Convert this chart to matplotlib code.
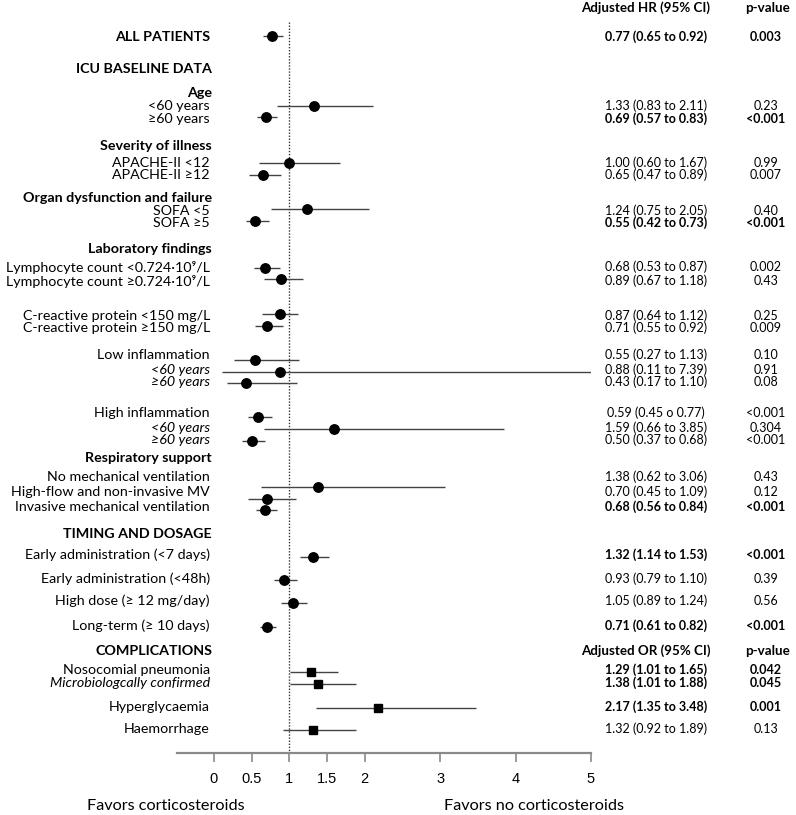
import matplotlib
matplotlib.use("Agg")
import matplotlib.pyplot as plt
from matplotlib.transforms import blended_transform_factory

# ---------------- data ----------------
labels = ["ALL PATIENTS", "<60 years", "≥60 years", "APACHE-II <12", "APACHE-II ≥12",
          "SOFA <5", "SOFA ≥5", "Lymphocyte count <0.724·10⁹/L", "Lymphocyte count ≥0.724·10⁹/L",
          "C-reactive protein <150 mg/L", "C-reactive protein ≥150 mg/L",
          "Low inflammation", "<60 years", "≥60 years",
          "High inflammation", "<60 years", "≥60 years",
          "No mechanical ventilation", "High-flow and non-invasive MV", "Invasive mechanical ventilation",
          "Early administration (<7 days)", "Early administration (<48h)",
          "High dose (≥ 12 mg/day)", "Long-term (≥ 10 days)",
          "Nosocomial pneumonia", "Microbiologcally confirmed", "Hyperglycaemia", "Haemorrhage"]
estimate = [0.77, 1.33, 0.69, 1.00, 0.65, 1.24, 0.55, 0.68, 0.89, 0.87, 0.71,
            0.55, 0.88, 0.43, 0.59, 1.59, 0.50, 1.38, 0.70, 0.68,
            1.32, 0.93, 1.05, 0.71, 1.29, 1.38, 2.17, 1.32]
ci_low = [0.65, 0.83, 0.57, 0.60, 0.47, 0.75, 0.42, 0.53, 0.67, 0.64, 0.55,
          0.27, 0.11, 0.17, 0.45, 0.66, 0.37, 0.62, 0.45, 0.56,
          1.14, 0.79, 0.89, 0.61, 1.01, 1.01, 1.35, 0.92]
ci_high = [0.92, 2.11, 0.83, 1.67, 0.89, 2.05, 0.73, 0.87, 1.18, 1.12, 0.92,
           1.13, 7.39, 1.10, 0.77, 3.85, 0.68, 3.06, 1.09, 0.84,
           1.53, 1.10, 1.24, 0.82, 1.65, 1.88, 3.48, 1.89]
ci_text = ["0.77 (0.65 to 0.92)", "1.33 (0.83 to 2.11)", "0.69 (0.57 to 0.83)",
           "1.00 (0.60 to 1.67)", "0.65 (0.47 to 0.89)", "1.24 (0.75 to 2.05)",
           "0.55 (0.42 to 0.73)", "0.68 (0.53 to 0.87)", "0.89 (0.67 to 1.18)",
           "0.87 (0.64 to 1.12)", "0.71 (0.55 to 0.92)", "0.55 (0.27 to 1.13)",
           "0.88 (0.11 to 7.39)", "0.43 (0.17 to 1.10)", "0.59 (0.45 o 0.77)",
           "1.59 (0.66 to 3.85)", "0.50 (0.37 to 0.68)", "1.38 (0.62 to 3.06)",
           "0.70 (0.45 to 1.09)", "0.68 (0.56 to 0.84)", "1.32 (1.14 to 1.53)",
           "0.93 (0.79 to 1.10)", "1.05 (0.89 to 1.24)", "0.71 (0.61 to 0.82)",
           "1.29 (1.01 to 1.65)", "1.38 (1.01 to 1.88)", "2.17 (1.35 to 3.48)",
           "1.32 (0.92 to 1.89)"]
p_text = ["0.003", "0.23", "<0.001", "0.99", "0.007", "0.40", "<0.001", "0.002", "0.43",
          "0.25", "0.009", "0.10", "0.91", "0.08", "<0.001", "0.304", "<0.001",
          "0.43", "0.12", "<0.001", "<0.001", "0.39", "0.56", "<0.001",
          "0.042", "0.045", "0.001", "0.13"]
bold_values = [True, False, True, False, False, False, True, False, False, False, False,
               False, False, False, False, False, False, False, False, True,
               True, False, False, True, True, True, True, False]
italic_labels = [False] * 12 + [True, True, False, True, True] + [False] * 8 + [True, False, False]
marker_kind = ["o"] * 24 + ["s"] * 4

section_labels = ["ICU BASELINE DATA", "Age", "Severity of illness", "Organ dysfunction and failure",
                  "Laboratory findings", "Respiratory support", "TIMING AND DOSAGE", "COMPLICATIONS"]
tick_values = [0, 0.5, 1, 1.5, 2, 3, 4, 5]
tick_labels = ["0", "0.5", "1", "1.5", "2", "3", "4", "5"]

# ---------------- layout (pixel rows) ----------------
label_y = [37, 106, 119, 163, 175, 211, 223, 267, 281, 316, 328, 355, 370, 382,
           413, 428, 440, 477, 492, 507, 555, 579, 601, 626, 670, 683, 707, 729]
mark_y = [36, 106, 117, 163, 175, 209, 221, 268, 279, 314, 326, 360, 372, 383,
          417, 429, 441, 487, 499, 510, 557, 580, 603, 627, 672, 684, 708, 730]
section_y = [69, 93, 146, 198, 249, 458, 534, 651]

W, H = 796, 815
AX_Y = 753
fig = plt.figure(figsize=(W / 100, H / 100), dpi=100)
ax = fig.add_axes([177 / W, (H - AX_Y) / H, (591 - 177) / W, AX_Y / H])
ax.set_xlim(-0.49, 5.0)
ax.set_ylim(AX_Y, 0)
for s in ["top", "left", "right"]:
    ax.spines[s].set_visible(False)
ax.spines["bottom"].set_color("#8a8a8a")
ax.spines["bottom"].set_linewidth(1.6)
ax.set_yticks([])
ax.set_xticks(tick_values)
ax.set_xticklabels(tick_labels, fontfamily="Liberation Sans", fontsize=10.5)
ax.tick_params(axis="x", direction="out", length=6.5, width=1.2, color="#8a8a8a", pad=7)
ax.patch.set_visible(False)

# reference line
ax.vlines(1, 22, AX_Y, colors="#333333", linestyles=(0, (1, 1.2)), linewidth=1.0)

# CIs and markers
ax.hlines(mark_y, ci_low, ci_high, colors="#444444", linewidth=1.0)
for x, y, m in zip(estimate, mark_y, marker_kind):
    ax.plot(x, y, marker=m, color="black", markersize=6.8 if m == "o" else 6.3,
            linestyle="none")

tr = blended_transform_factory(fig.transFigure, ax.transData)
FAM = ["Lato", "DejaVu Sans"]
FS = 10.3
VFS = 9.0

def px(x):
    return x / W

# row labels
for i, (lab, y) in enumerate(zip(labels, label_y)):
    ax.text(px(210), y, lab, transform=tr, ha="right", va="center", fontsize=FS,
            family=FAM, fontweight="bold" if i == 0 else "normal",
            fontstyle="italic" if italic_labels[i] else "normal", clip_on=False)
for lab, y in zip(section_labels, section_y):
    ax.text(px(212), y, lab, transform=tr, ha="right", va="center", fontsize=FS,
            family=FAM, fontweight="bold", clip_on=False)

# value columns
for t, p, y, b in zip(ci_text, p_text, label_y, bold_values):
    w = "bold" if b else "normal"
    ax.text(px(656), y, t, transform=tr, ha="center", va="center", fontsize=VFS,
            family=FAM, fontweight=w, clip_on=False)
    ax.text(px(766), y, p, transform=tr, ha="center", va="center", fontsize=VFS,
            family=FAM, fontweight=w, clip_on=False)

for head, y in [("Adjusted HR (95% CI)", 8), ("Adjusted OR (95% CI)", 651)]:
    ax.text(px(646), y, head, transform=tr, ha="center", va="center", fontsize=9.6,
            family=FAM, fontweight="bold", clip_on=False)
    ax.text(px(767), y, "p-value", transform=tr, ha="center", va="center", fontsize=9.6,
            family=FAM, fontweight="bold", clip_on=False)

# favors labels
fig.text(px(166), 1 - 806 / H, "Favors corticosteroids", ha="center", va="center",
         fontsize=11.7, family=FAM)
fig.text(px(534), 1 - 806 / H, "Favors no corticosteroids", ha="center", va="center",
         fontsize=11.7, family=FAM)

fig.savefig("out.png", dpi=100)
